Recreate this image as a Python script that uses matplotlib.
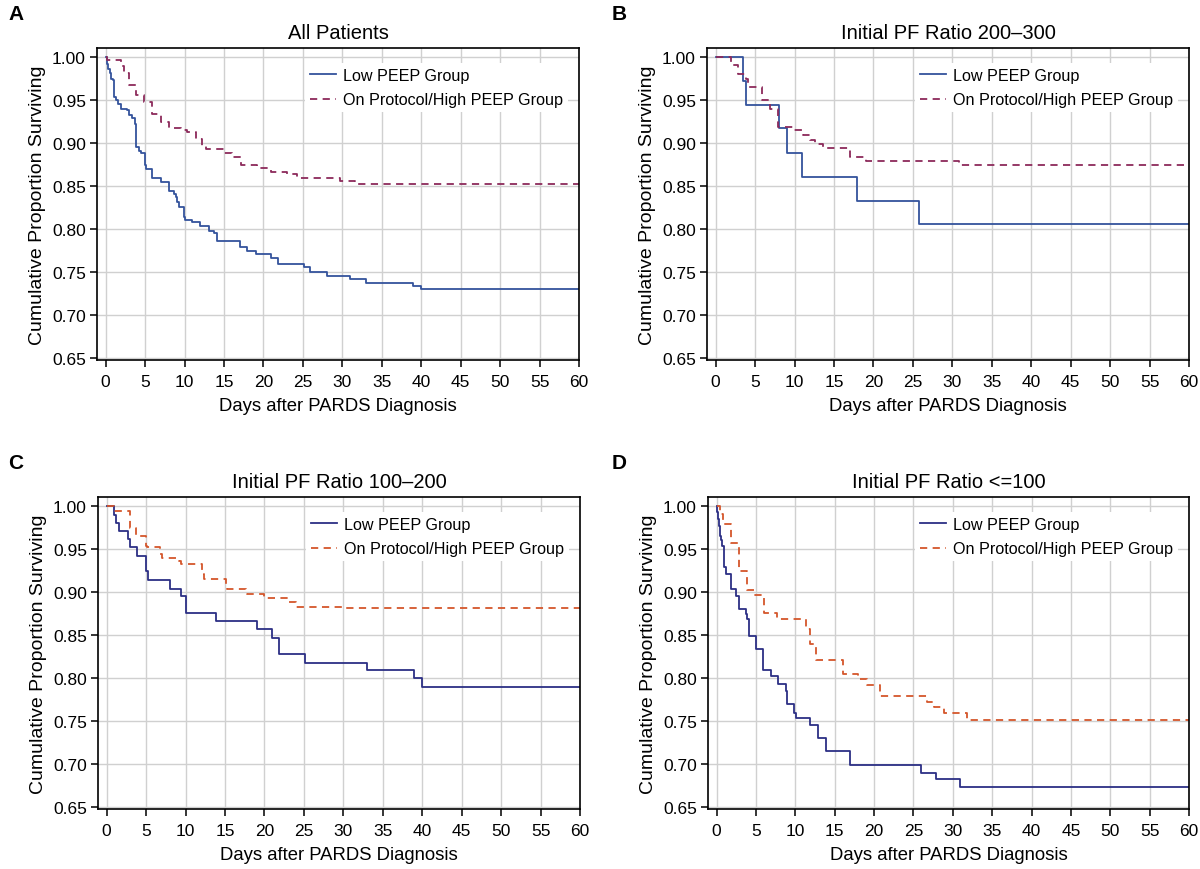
import matplotlib
matplotlib.use("Agg")
import matplotlib.pyplot as plt

plt.rcParams['font.family'] = ['Liberation Sans', 'DejaVu Sans']

# ---- data (day, proportion surviving) ----
# A: All patients
a_low_t = [0, 0.13, 0.3, 0.5, 0.63, 0.97, 1.05, 1.3, 1.6, 2.0, 2.7, 3.0, 3.4, 3.7, 3.8, 3.9, 4.2, 4.5,
           5.0, 5.06, 5.9, 7.0, 8.0, 8.65, 8.9, 9.1, 9.3, 9.9, 10.1, 11.0, 12.0, 13.1, 13.7, 14.05,
           17.0, 17.9, 19.1, 21.0, 21.9, 25.2, 25.9, 28.1, 31.0, 33.0, 38.9, 40.0, 60]
a_low_s = [1.0, 0.992, 0.986, 0.981, 0.975, 0.973, 0.954, 0.950, 0.945, 0.940, 0.938, 0.933, 0.929, 0.922,
           0.917, 0.895, 0.891, 0.888, 0.874, 0.870, 0.859, 0.855, 0.844, 0.841, 0.837, 0.831, 0.826,
           0.814, 0.811, 0.808, 0.804, 0.798, 0.796, 0.786, 0.779, 0.775, 0.771, 0.767, 0.760, 0.756,
           0.750, 0.746, 0.742, 0.738, 0.734, 0.731, 0.731]
a_high_t = [0, 0.2, 2.0, 2.3, 2.95, 3.9, 4.85, 5.9, 7.05, 8.0, 9.5, 10.3, 11.4, 12.2, 12.7, 15.0, 16.0,
            17.1, 19.2, 20.9, 23.0, 24.3, 27.2, 29.7, 31.6, 60]
a_high_s = [1.0, 0.996, 0.990, 0.982, 0.968, 0.956, 0.948, 0.934, 0.924, 0.917, 0.915, 0.913, 0.905,
            0.897, 0.893, 0.889, 0.884, 0.875, 0.871, 0.867, 0.864, 0.860, 0.859, 0.856, 0.853, 0.853]

# B: initial PF ratio 200-300
b_low_t = [0, 3.47, 3.9, 8.0, 9.05, 10.95, 17.9, 25.8, 60]
b_low_s = [1.0, 0.972, 0.944, 0.917, 0.889, 0.861, 0.833, 0.806, 0.806]
b_high_t = [0, 1.9, 2.8, 3.9, 4.1, 5.9, 6.85, 7.9, 9.8, 11.1, 11.9, 12.55, 13.6, 17.0, 19.1, 30.9, 60]
b_high_s = [1.0, 0.991, 0.980, 0.974, 0.965, 0.950, 0.940, 0.919, 0.9155, 0.909, 0.904, 0.899, 0.894,
            0.884, 0.879, 0.874, 0.874]

# C: initial PF ratio 100-200
c_low_t = [0, 0.93, 1.2, 1.56, 2.7, 2.95, 3.8, 4.94, 5.2, 8.0, 9.4, 10.0, 13.8, 19.1, 21.0, 21.9, 25.2,
           33.0, 39.0, 40.0, 60]
c_low_s = [1.0, 0.9895, 0.980, 0.971, 0.962, 0.952, 0.942, 0.924, 0.914, 0.904, 0.895, 0.876, 0.867,
           0.857, 0.847, 0.828, 0.818, 0.809, 0.800, 0.790, 0.790]
c_high_t = [0, 0.93, 2.95, 3.67, 4.94, 5.15, 6.8, 7.05, 9.15, 9.4, 12.1, 12.3, 15.1, 15.3, 17.6, 17.8,
            19.9, 23.1, 24.05, 29.8, 60]
c_high_s = [1.0, 0.9946, 0.974, 0.9655, 0.954, 0.952, 0.944, 0.940, 0.936, 0.933, 0.921, 0.915, 0.907,
            0.9035, 0.900, 0.898, 0.893, 0.889, 0.883, 0.881, 0.881]

# D: initial PF ratio <=100
d_low_t = [0, 0.08, 0.17, 0.25, 0.38, 0.51, 0.68, 0.93, 1.22, 1.86, 2.49, 2.87, 3.76, 3.88, 4.05, 4.94,
           5.9, 6.9, 7.85, 8.8, 8.95, 9.87, 10.1, 11.9, 12.9, 13.9, 16.9, 25.9, 27.9, 30.9, 60]
d_low_s = [1.0, 0.9926, 0.985, 0.977, 0.9655, 0.960, 0.954, 0.929, 0.921, 0.904, 0.896, 0.880, 0.874,
           0.869, 0.849, 0.834, 0.809, 0.802, 0.793, 0.785, 0.770, 0.760, 0.7535, 0.746, 0.730, 0.715,
           0.699, 0.690, 0.683, 0.674, 0.674]
d_high_t = [0, 0.38, 0.8, 1.86, 2.83, 3.88, 4.8, 6.0, 7.7, 11.3, 11.9, 12.6, 16.1, 18.0, 19.1, 20.8,
            26.7, 27.6, 28.9, 31.8, 60]
d_high_s = [1.0, 0.991, 0.979, 0.957, 0.924, 0.903, 0.897, 0.876, 0.869, 0.857, 0.840, 0.821, 0.805,
            0.799, 0.792, 0.779, 0.772, 0.766, 0.760, 0.751, 0.751]

panels = [
    ("A", "All Patients", a_low_t, a_low_s, a_high_t, a_high_s, "#34539c", "#8c2a5b"),
    ("B", "Initial PF Ratio 200\u2013300", b_low_t, b_low_s, b_high_t, b_high_s, "#34539c", "#8c2a5b"),
    ("C", "Initial PF Ratio 100\u2013200", c_low_t, c_low_s, c_high_t, c_high_s, "#2c2f85", "#d4562b"),
    ("D", "Initial PF Ratio <=100", d_low_t, d_low_s, d_high_t, d_high_s, "#2c2f85", "#d4562b"),
]

# axes boxes in pixels: left, right, top, bottom
boxes = [(97, 579, 49, 361), (707, 1189, 49, 361), (98, 580, 498, 810), (708, 1189, 498, 810)]
letter_pos = [(8, 15), (612, 15), (8, 464), (612, 464)]

W, H = 1200, 870
fig = plt.figure(figsize=(12, 8.7), dpi=100)

yticks = [0.65, 0.70, 0.75, 0.80, 0.85, 0.90, 0.95, 1.00]
xticks = list(range(0, 61, 5))

for (letter, title, lt, ls, ht, hs, c_low, c_high), (l, r, t, b), (lx, ly) in zip(panels, boxes, letter_pos):
    ax = fig.add_axes([l / W, (H - b) / H, (r - l) / W, (b - t) / H])
    ax.step(lt, ls, where='post', color=c_low, lw=1.3, label="Low PEEP Group")
    ax.step(ht, hs, where='post', color=c_high, lw=1.3, linestyle=(0, (4, 3)),
            label="On Protocol/High PEEP Group")
    ax.set_xlim(-1.1, 60)
    ax.set_ylim(0.648, 1.0105)
    ax.set_xticks(xticks)
    ax.set_yticks(yticks)
    ax.set_yticklabels([f"{v:.2f}" for v in yticks])
    ax.grid(True, color="#d0d0d0", lw=1.0)
    ax.set_axisbelow(True)
    ax.tick_params(labelsize=12.5, length=5, width=1.1, direction='out', pad=3)
    ax.tick_params(axis='x', pad=5)
    for s in ax.spines.values():
        s.set_linewidth(1.2)
    ax.set_title(title, fontsize=14.5, pad=7)
    ax.set_xlabel("Days after PARDS Diagnosis", fontsize=13.3, labelpad=6)
    ax.set_ylabel("Cumulative Proportion Surviving", fontsize=14, labelpad=4)
    ax.legend(loc='upper right', bbox_to_anchor=(0.977, 0.951), borderaxespad=0,
              fontsize=11.6, frameon=True, framealpha=1.0, edgecolor='none', facecolor='white',
              handlelength=1.6, handletextpad=0.45, borderpad=0.3, labelspacing=0.58)
    fig.text(lx / W, 1 - ly / H, letter, fontsize=15, fontweight='bold', va='center', ha='left')

fig.savefig("out.png", dpi=100)
